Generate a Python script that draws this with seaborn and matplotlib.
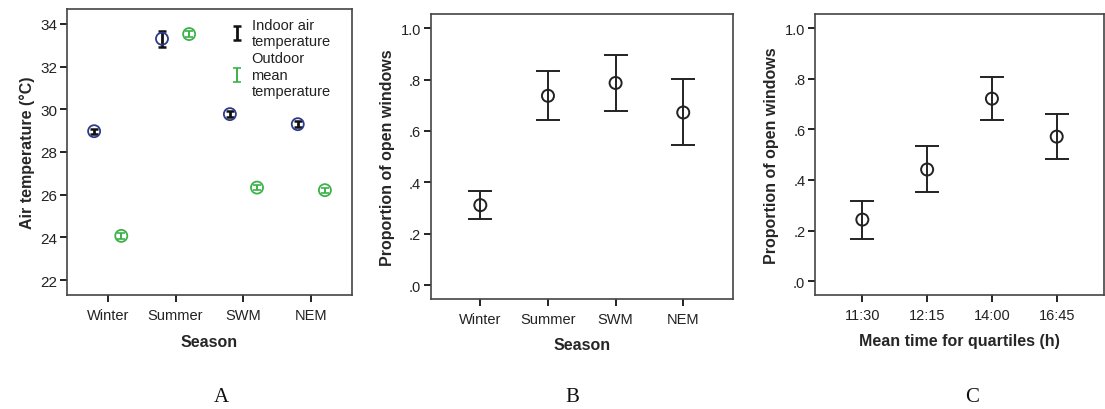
import numpy as np
import matplotlib
matplotlib.use("Agg")
import matplotlib.pyplot as plt
import matplotlib.ticker as mtick
import seaborn as sns

# ── Data ───────────────────────────────────────────────────────────────────────
SEASONS = ["Winter", "Summer", "SWM", "NEM"]
INDOOR_MEAN = [28.97, 33.30, 29.77, 29.30]
INDOOR_LO = [28.85, 32.90, 29.62, 29.15]
INDOOR_HI = [29.09, 33.68, 29.92, 29.45]
OUTDOOR_MEAN = [24.07, 33.52, 26.33, 26.21]
OUTDOOR_LO = [23.93, 33.36, 26.22, 26.10]
OUTDOOR_HI = [24.21, 33.68, 26.44, 26.32]

SEASON_MEAN = [0.311, 0.737, 0.787, 0.672]
SEASON_LO = [0.256, 0.642, 0.676, 0.546]
SEASON_HI = [0.365, 0.832, 0.897, 0.802]

TIMES = ["11:30", "12:15", "14:00", "16:45"]
TIME_MEAN = [0.243, 0.441, 0.721, 0.571]
TIME_LO = [0.168, 0.351, 0.637, 0.481]
TIME_HI = [0.317, 0.533, 0.807, 0.660]

# ── Style ──────────────────────────────────────────────────────────────────────
sns.set_theme(style="ticks")
plt.rcParams["font.family"] = ["Liberation Sans", "DejaVu Sans"]
SPINE = "#444444"
NAVY = "#2e3b8a"
GREEN = "#3db14a"


def style_axes(ax, tick_size):
    for s in ax.spines.values():
        s.set_visible(True)
        s.set_color(SPINE)
        s.set_linewidth(1.2)
    ax.tick_params(axis="both", direction="out", length=5, width=1.4,
                   color="#222222", labelsize=tick_size, labelcolor="#222222", pad=2)
    ax.tick_params(axis="y", right=False)
    ax.tick_params(axis="x", top=False, pad=4)


def prop_fmt(v, _):
    return "1.0" if abs(v - 1) < 1e-9 else f"{v:.1f}".lstrip("0")


def prop_panel(ax, labels, mean, lo, hi, xlabel):
    x = np.arange(len(labels))
    mean = np.array(mean)
    err = [mean - np.array(lo), np.array(hi) - mean]
    ax.errorbar(x, mean, yerr=err, fmt="none", ecolor="#222222",
                elinewidth=1.4, capsize=8.5, capthick=1.4)
    sns.scatterplot(x=x, y=mean, ax=ax, s=75, marker="o",
                    facecolor="none", edgecolor="#222222", linewidth=1.4, zorder=3)
    ax.set_xticks(x)
    ax.set_xticklabels(labels)
    ax.set_xlim(-0.73, 3.73)
    ax.set_ylim(-0.055, 1.055)
    ax.set_yticks([0, 0.2, 0.4, 0.6, 0.8, 1.0])
    ax.yaxis.set_major_formatter(mtick.FuncFormatter(prop_fmt))
    ax.set_xlabel(xlabel, fontsize=11.5, fontweight="bold", labelpad=8)
    ax.set_ylabel("Proportion of open windows", fontsize=11.5, fontweight="bold", labelpad=4)
    style_axes(ax, 10.5)


fig = plt.figure(figsize=(11.05, 4.10), dpi=100)
axA = fig.add_axes([0.0606, 0.278, 0.258, 0.698])
axB = fig.add_axes([0.390, 0.268, 0.273, 0.695])
axC = fig.add_axes([0.7376, 0.278, 0.2615, 0.685])

# ── A: air temperature ─────────────────────────────────────────────────────────
x = np.arange(len(SEASONS))
off = 0.2
im = np.array(INDOOR_MEAN)
om = np.array(OUTDOOR_MEAN)
axA.errorbar(x - off, im, yerr=[im - np.array(INDOOR_LO), np.array(INDOOR_HI) - im],
             fmt="none", ecolor="#111111", elinewidth=2.0, capsize=3, capthick=1.8,
             label="Indoor air\ntemperature", zorder=2)
axA.errorbar(x + off, om, yerr=[om - np.array(OUTDOOR_LO), np.array(OUTDOOR_HI) - om],
             fmt="none", ecolor=GREEN, elinewidth=1.4, capsize=3, capthick=1.2,
             label="Outdoor\nmean\ntemperature", zorder=2)
sns.scatterplot(x=x - off, y=im, ax=axA, s=75, marker="o", facecolor="none",
                edgecolor=NAVY, linewidth=1.3, zorder=3)
sns.scatterplot(x=x + off, y=om, ax=axA, s=75, marker="o", facecolor="none",
                edgecolor=GREEN, linewidth=1.3, zorder=3)
axA.set_xticks(x)
axA.set_xticklabels(SEASONS)
axA.set_xlim(-0.6, 3.6)
axA.set_ylim(21.3, 34.7)
axA.set_yticks([22, 24, 26, 28, 30, 32, 34])
axA.set_xlabel("Season", fontsize=11.5, fontweight="bold", labelpad=9)
axA.set_ylabel("Air temperature (°C)", fontsize=11.5, fontweight="bold", labelpad=4)
style_axes(axA, 10.5)
axA.tick_params(axis="y", labelsize=11)
leg = axA.legend(loc="upper left", bbox_to_anchor=(0.54, 1.0), frameon=False,
                 fontsize=10.5, handlelength=1.0, handletextpad=0.5,
                 labelspacing=0.25, borderaxespad=0.2)
for t in leg.get_texts():
    t.set_color("#222222")

# ── B & C: proportion of open windows ──────────────────────────────────────────
prop_panel(axB, SEASONS, SEASON_MEAN, SEASON_LO, SEASON_HI, "Season")
prop_panel(axC, TIMES, TIME_MEAN, TIME_LO, TIME_HI, "Mean time for quartiles (h)")

for lab, xp in zip(["A", "B", "C"], [221, 572, 972]):
    fig.text(xp / 1105, 1 - 398 / 410, lab, ha="center", va="center",
             fontsize=15, family="Liberation Serif", color="#111111")

fig.savefig("out.png", dpi=100)
